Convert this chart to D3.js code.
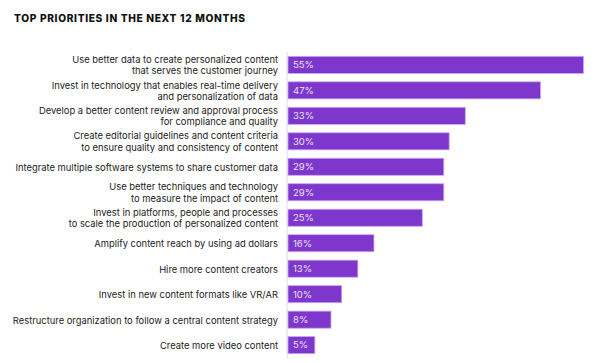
<!DOCTYPE html>
<html>
<head>
<meta charset="utf-8">
<script src="https://cdn.jsdelivr.net/npm/d3@7"></script>
<style>
  body { margin: 0; background: #fff; }
  svg { display: block; }
</style>
</head>
<body>
<script>
var svgWidth = 600;
var svgHeight = 363;

var margin = { top: 52, right: 17, bottom: 6, left: 288 };

var width = svgWidth - margin.left - margin.right;
var height = svgHeight - margin.top - margin.bottom;

// data
var priorities = [
  ["Use better data to create personalized content", "that serves the customer journey"],
  ["Invest in technology that enables real-time delivery", "and personalization of data"],
  ["Develop a better content review and approval process", "for compliance and quality"],
  ["Create editorial guidelines and content criteria", "to ensure quality and consistency of content"],
  ["Integrate multiple software systems to share customer data"],
  ["Use better techniques and technology", "to measure the impact of content"],
  ["Invest in platforms, people and processes", "to scale the production of personalized content"],
  ["Amplify content reach by using ad dollars"],
  ["Hire more content creators"],
  ["Invest in new content formats like VR/AR"],
  ["Restructure organization to follow a central content strategy"],
  ["Create more video content"]
];
var shares = [55, 47, 33, 30, 29, 29, 25, 16, 13, 10, 8, 5];

var rows = priorities.map((p, i) => ({ label: p, value: shares[i], key: i }));

var svg = d3.select("body")
  .append("svg")
  .attr("width", svgWidth)
  .attr("height", svgHeight);

svg.append("text")
  .attr("x", 14)
  .attr("y", 22)
  .attr("font-family", "Inter, sans-serif")
  .attr("font-weight", 800)
  .attr("font-size", "10.2px")
  .attr("letter-spacing", "0.65px")
  .attr("fill", "#111")
  .text("TOP PRIORITIES IN THE NEXT 12 MONTHS");

var chartGroup = svg.append("g")
  .attr("transform", `translate(${margin.left}, ${margin.top})`);

var xScale = d3.scaleLinear()
  .domain([0, 55])
  .range([0, 295.5]);

var yScale = d3.scaleBand()
  .domain(rows.map(d => d.key))
  .range([0, 306])
  .paddingInner(0.33)
  .paddingOuter(0.17);

// thin grey baseline
chartGroup.append("line")
  .attr("x1", -1).attr("x2", -1)
  .attr("y1", 0).attr("y2", 306)
  .attr("stroke", "#dcdcdc")
  .attr("stroke-width", 1);

chartGroup.selectAll("rect.bar")
  .data(rows)
  .enter()
  .append("rect")
  .attr("class", "bar")
  .attr("x", 0)
  .attr("y", d => yScale(d.key))
  .attr("width", d => xScale(d.value))
  .attr("height", yScale.bandwidth())
  .attr("fill", "#7d37cd")
  .attr("stroke", "#c9a8f0")
  .attr("stroke-width", 0.8);

chartGroup.selectAll("text.val")
  .data(rows)
  .enter()
  .append("text")
  .attr("class", "val")
  .attr("x", 5)
  .attr("y", d => yScale(d.key) + yScale.bandwidth() / 2)
  .attr("dy", "0.35em")
  .attr("font-family", "Inter, sans-serif")
  .attr("font-size", "9.5px")
  .attr("fill", "#ece0fb")
  .text(d => d.value + "%");

var lineGap = 11.4;
var labels = chartGroup.selectAll("text.lab")
  .data(rows)
  .enter()
  .append("text")
  .attr("class", "lab")
  .attr("text-anchor", "end")
  .attr("font-family", "Inter, sans-serif")
  .attr("font-size", "9.4px")
  .attr("fill", "#222");

labels.selectAll("tspan")
  .data(d => d.label.map((t, j) => ({ t: t, j: j, n: d.label.length, key: d.key })))
  .enter()
  .append("tspan")
  .attr("x", -10)
  .attr("y", s => yScale(s.key) + yScale.bandwidth() / 2 + 0.6 + (s.j - (s.n - 1) / 2) * lineGap)
  .attr("dy", "0.35em")
  .text(s => s.t);
</script>
</body>
</html>
